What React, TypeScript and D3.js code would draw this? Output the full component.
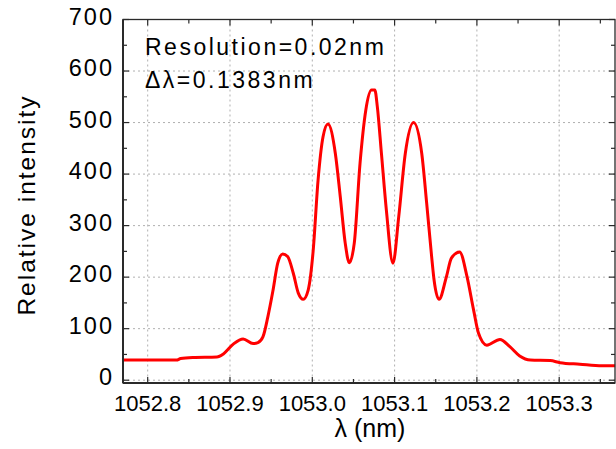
import React from "react";
import { scaleLinear, line as d3_line, curveMonotoneX } from "d3";

// spectrum
const wavelength = [
    1052.770, 1052.835, 1052.840, 1052.855, 1052.884, 1052.892, 1052.904, 1052.916,
    1052.928, 1052.934, 1052.940, 1052.946, 1052.952, 1052.958, 1052.964, 1052.970,
    1052.977, 1052.983, 1052.989, 1052.995, 1053.001, 1053.007, 1053.013, 1053.019,
    1053.028, 1053.034, 1053.040, 1053.045, 1053.051, 1053.058, 1053.065, 1053.072,
    1053.076, 1053.079, 1053.084, 1053.090, 1053.098, 1053.105, 1053.113, 1053.123,
    1053.133, 1053.139, 1053.145, 1053.148, 1053.154, 1053.163, 1053.169, 1053.179,
    1053.188, 1053.196, 1053.202, 1053.212, 1053.228, 1053.240, 1053.252, 1053.265,
    1053.289, 1053.301, 1053.325, 1053.352, 1053.368,
];
const intensity = [
    39, 39, 42, 44, 45, 51, 70, 80,
    71, 73, 84, 123, 172, 227, 245, 240,
    207, 169, 157, 175, 250, 388, 472, 497,
    440, 356, 266, 228, 266, 421, 524, 563,
    563, 531, 440, 330, 227, 317, 440, 500,
    440, 343, 240, 194, 157, 201, 237, 249,
    201, 136, 91, 68, 79, 65, 47, 39,
    38, 34, 31, 28, 28,
];

const xTicks = [1052.8, 1052.9, 1053.0, 1053.1, 1053.2, 1053.3];
const xMinor = [1052.85, 1052.95, 1053.05, 1053.15, 1053.25, 1053.35];
const yTicks = [0, 100, 200, 300, 400, 500, 600, 700];
const yMinor = [50, 150, 250, 350, 450, 550, 650];

const notes = ["Resolution=0.02nm", "Δλ=0.1383nm"];

const W = 616;
const H = 449;
const left = 123;
const right = 615;
const top = 19.5;
const bottom = 383;

const font = "Arial, 'Liberation Sans', sans-serif";

export default function App() {
    const x = scaleLinear().domain([1052.77, 1053.3678]).range([left, right]);
    const y = scaleLinear().domain([0, 700]).range([380.2, 19.5]);

    const pts = wavelength.map((w, i) => ({ w, v: intensity[i] }));
    const path = d3_line<(typeof pts)[number]>()
        .x((d) => x(d.w))
        .y((d) => y(d.v))
        .curve(curveMonotoneX)(pts);

    const axisColor = "#2a2a2a";

    return (
        <svg
            width={W}
            height={H}
            style={{ position: "absolute", left: 0, top: 0, background: "#fff" }}
            fontFamily={font}
        >
            {/* grid */}
            <g stroke="#b0b0b0" strokeWidth={1} strokeDasharray="2,3">
                {xTicks.map((t) => (
                    <line key={"gx" + t} x1={x(t)} x2={x(t)} y1={top} y2={bottom} />
                ))}
                {yTicks.slice(0, -1).map((t) => (
                    <line key={"gy" + t} x1={left} x2={right} y1={y(t)} y2={y(t)} />
                ))}
            </g>

            {/* curve */}
            <path d={path ?? ""} fill="none" stroke="#ff0000" strokeWidth={3} strokeLinejoin="round" />

            {/* frame + ticks */}
            <rect x={left} y={top} width={right - left} height={bottom - top} fill="none" stroke={axisColor} strokeWidth={1.3} />
            <line x1={left} x2={left} y1={top} y2={bottom} stroke={axisColor} strokeWidth={2} />
            <line x1={left} x2={right} y1={bottom} y2={bottom} stroke={axisColor} strokeWidth={2} />
            <g stroke={axisColor} strokeWidth={1.2}>
                {xTicks.map((t) => (
                    <g key={"tx" + t}>
                        <line x1={x(t)} x2={x(t)} y1={bottom} y2={bottom - 6} />
                        <line x1={x(t)} x2={x(t)} y1={top} y2={top + 6} />
                    </g>
                ))}
                {xMinor.map((t) => (
                    <g key={"mx" + t}>
                        <line x1={x(t)} x2={x(t)} y1={bottom} y2={bottom - 4} />
                        <line x1={x(t)} x2={x(t)} y1={top} y2={top + 4} />
                    </g>
                ))}
                {yTicks.map((t) => (
                    <g key={"ty" + t}>
                        <line x1={left} x2={left + 6} y1={y(t)} y2={y(t)} />
                        <line x1={right} x2={right - 6} y1={y(t)} y2={y(t)} />
                    </g>
                ))}
                {yMinor.map((t) => (
                    <g key={"my" + t}>
                        <line x1={left} x2={left + 4} y1={y(t)} y2={y(t)} />
                        <line x1={right} x2={right - 4} y1={y(t)} y2={y(t)} />
                    </g>
                ))}
            </g>

            {/* tick labels */}
            <g fill="#000" fontSize={22}>
                {xTicks.map((t) => (
                    <text key={"lx" + t} x={x(t)} y={410.5} textAnchor="middle">
                        {t.toFixed(1)}
                    </text>
                ))}
            </g>
            <g fill="#000" fontSize={23.5} letterSpacing={2}>
                {yTicks.map((t) => (
                    <text key={"ly" + t} x={114} y={y(t) + 5} textAnchor="end">
                        {t}
                    </text>
                ))}
            </g>

            {/* axis titles */}
            <text x={370} y={437} textAnchor="middle" fontSize={25} fill="#000">
                λ (nm)
            </text>
            <text
                transform="translate(35,205) rotate(-90)"
                textAnchor="middle"
                fontSize={24.5}
                letterSpacing={2}
                fill="#000"
            >
                Relative intensity
            </text>

            {/* annotation */}
            <g fill="#000" fontSize={23} letterSpacing={2.5}>
                {notes.map((s, i) => (
                    <text key={s} x={145} y={55 + i * 33}>
                        {s}
                    </text>
                ))}
            </g>
        </svg>
    );
}
